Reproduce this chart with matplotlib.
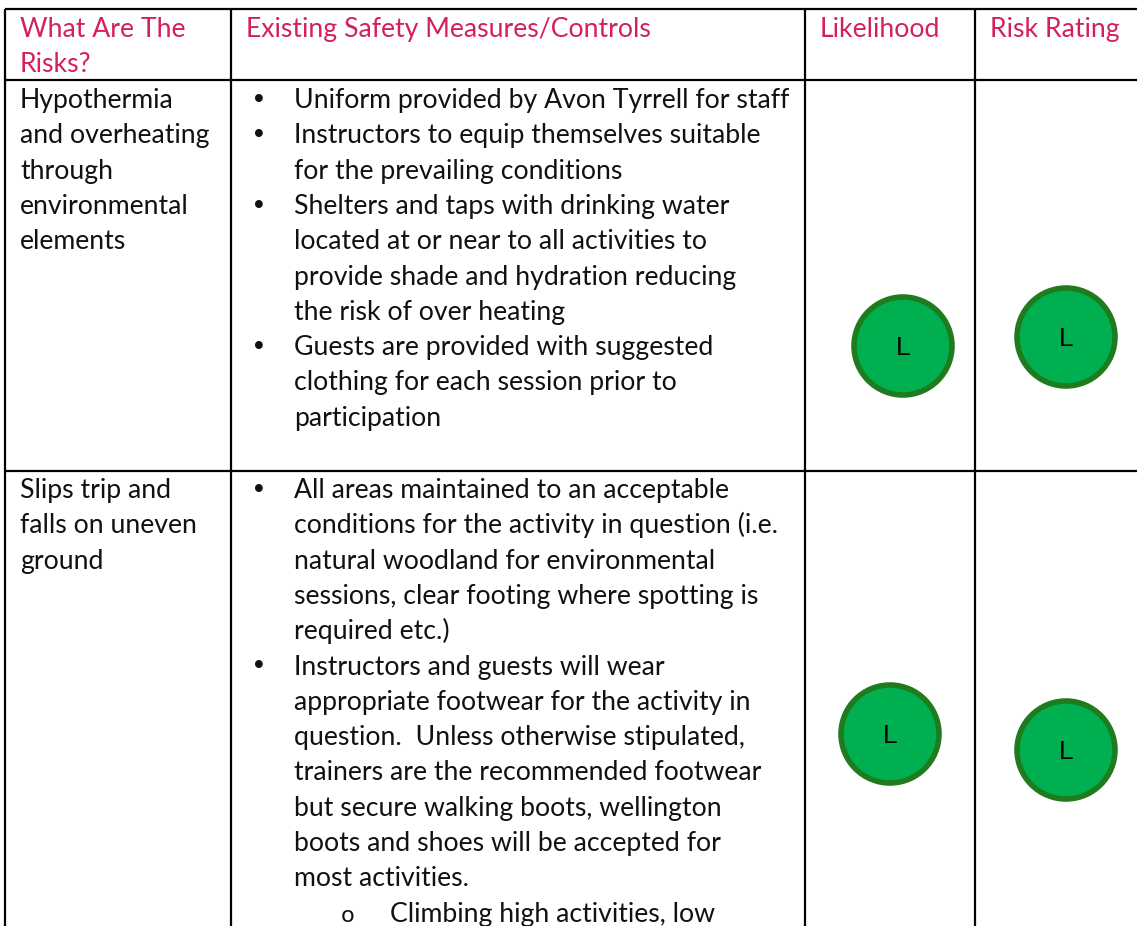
import matplotlib.pyplot as plt
from matplotlib.patches import Circle

# Table content
headers = ["What Are The\nRisks?", "Existing Safety Measures/Controls", "Likelihood", "Risk Rating"]

risks = [
    ["Hypothermia", "and overheating", "through", "environmental", "elements"],
    ["Slips trip and", "falls on uneven", "ground"],
]

# each measure is a bullet made of wrapped lines; level 2 = sub-bullet
measures = [
    [
        (1, ["Uniform provided by Avon Tyrrell for staff"]),
        (1, ["Instructors to equip themselves suitable", "for the prevailing conditions"]),
        (1, ["Shelters and taps with drinking water", "located at or near to all activities to",
             "provide shade and hydration reducing", "the risk of over heating"]),
        (1, ["Guests are provided with suggested", "clothing for each session prior to",
             "participation"]),
    ],
    [
        (1, ["All areas maintained to an acceptable",
             "conditions for the activity in question (i.e.",
             "natural woodland for environmental",
             "sessions, clear footing where spotting is",
             "required etc.)"]),
        (1, ["Instructors and guests will wear",
             "appropriate footwear for the activity in",
             "question.  Unless otherwise stipulated,",
             "trainers are the recommended footwear",
             "but secure walking boots, wellington",
             "boots and shoes will be accepted for",
             "most activities."]),
        (2, ["Climbing high activities, low"]),
    ],
]

likelihood = ["L", "L"]
risk_rating = ["L", "L"]

# Layout (pixels)
W, H = 1137, 926
col_x = [5, 231, 805, 975]
row_y = [9, 80, 471]
row_text_top = [108, 498]
line_h = 35.3
like_centres = [(903, 346), (890, 734)]
rate_centres = [(1066, 337), (1066, 750)]

head_col = "#D4215A"
font = "Lato"
fs = 19.2

fig = plt.figure(figsize=(W / 100, H / 100), dpi=100)
ax = fig.add_axes([0, 0, 1, 1])
ax.set_xlim(0, W)
ax.set_ylim(H, 0)
ax.axis("off")

lw = 1.6
for y in row_y:
    ax.plot([col_x[0], W], [y, y], color="black", lw=lw, solid_capstyle="butt")
for x in col_x:
    ax.plot([x, x], [row_y[0], H], color="black", lw=lw, solid_capstyle="butt")

# header
for i, h in enumerate(headers):
    for j, line in enumerate(h.split("\n")):
        ax.text(col_x[i] + 15, 37 + j * line_h, line, color=head_col,
                fontsize=fs, family=font, va="baseline")

for r in range(len(risks)):
    y0 = row_text_top[r]
    for j, line in enumerate(risks[r]):
        ax.text(col_x[0] + 15, y0 + j * line_h, line, fontsize=fs, family=font,
                va="baseline", color="#111111")
    k = 0
    for level, lines in measures[r]:
        yb = y0 + k * line_h
        if level == 1:
            ax.text(col_x[1] + 20, yb, "\u2022", fontsize=fs, family="DejaVu Sans",
                    va="baseline", color="#111111")
            tx = col_x[1] + 63
        else:
            ax.text(col_x[1] + 110, yb, "o", fontsize=fs - 3, family="DejaVu Sans",
                    va="baseline", color="#111111")
            tx = col_x[1] + 159
        for line in lines:
            ax.text(tx, y0 + k * line_h, line, fontsize=fs, family=font,
                    va="baseline", color="#111111")
            k += 1

    for (cx, cy), lab in [(like_centres[r], likelihood[r]), (rate_centres[r], risk_rating[r])]:
        ax.add_patch(Circle((cx, cy), 49, facecolor="#00B050", edgecolor="#1E7B1E", lw=4))
        ax.text(cx, cy + 2, lab, fontsize=19, family="Liberation Sans",
                ha="center", va="center", color="black")

fig.savefig("out.png", dpi=100)
